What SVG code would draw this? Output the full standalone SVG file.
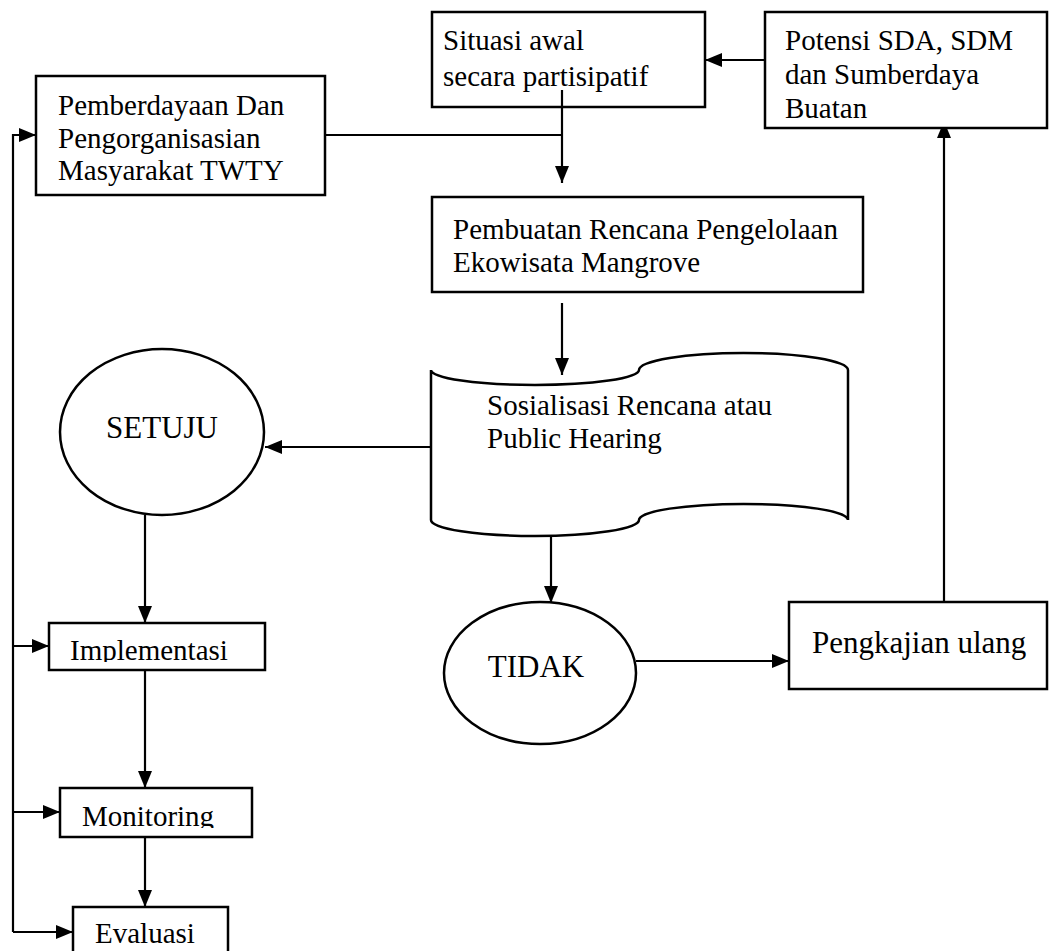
<svg xmlns="http://www.w3.org/2000/svg" width="1050" height="951" viewBox="0 0 1050 951">
<style>
.box{fill:#fff;stroke:#000;stroke-width:2.5}
.t{font-family:"Liberation Serif","Times New Roman",serif;font-size:29px;fill:#000}
.tl{font-family:"Liberation Serif","Times New Roman",serif;font-size:31px;fill:#000}
.c{fill:none;stroke:#000;stroke-width:2.2}
</style>
<defs>
<marker id="ah" viewBox="0 0 17 14" refX="17" refY="7" markerWidth="17" markerHeight="14" orient="auto" markerUnits="userSpaceOnUse">
<path d="M0,0 L17,7 L0,14 z" fill="#000"/>
</marker>
<clipPath id="clipImpl"><rect x="40" y="610" width="240" height="52"/></clipPath>
<clipPath id="clipMon"><rect x="50" y="780" width="220" height="48"/></clipPath>
</defs>
<rect width="1050" height="951" fill="#fff"/>

<g id="connectors">
<path class="c" d="M765,60 H705" marker-end="url(#ah)"/>
<path class="c" d="M325,135 H562"/>
<path class="c" d="M562,90 V183" marker-end="url(#ah)"/>
<path class="c" d="M562,303 V375" marker-end="url(#ah)"/>
<path class="c" d="M431,447 H265" marker-end="url(#ah)"/>
<path class="c" d="M551,537 V603" marker-end="url(#ah)"/>
<path class="c" d="M636,661 H789" marker-end="url(#ah)"/>
<path class="c" d="M944,602 V121" marker-end="url(#ah)"/>
<path class="c" d="M145,515 V623" marker-end="url(#ah)"/>
<path class="c" d="M145,670 V788" marker-end="url(#ah)"/>
<path class="c" d="M145,837 V907" marker-end="url(#ah)"/>
<path class="c" d="M13,932 V135 H36" marker-end="url(#ah)"/>
<path class="c" d="M13,646 H49" marker-end="url(#ah)"/>
<path class="c" d="M13,812 H60" marker-end="url(#ah)"/>
<path class="c" d="M13,932 H73" marker-end="url(#ah)"/>
</g>

<g id="situasi">
<rect class="box" x="432" y="12" width="273" height="95" style="fill:none"/>
<text class="t" x="443" y="50">Situasi awal</text>
<text class="t" x="443" y="86">secara partisipatif</text>
</g>

<g id="potensi">
<rect class="box" x="765" y="12" width="282" height="116"/>
<text class="t" x="785" y="50">Potensi SDA, SDM</text>
<text class="t" x="785" y="84">dan Sumberdaya</text>
<text class="t" x="785" y="118">Buatan</text>
</g>

<g id="pemberdayaan">
<rect class="box" x="36" y="76" width="289" height="119"/>
<text class="t" x="58" y="115">Pemberdayaan Dan</text>
<text class="t" x="58" y="148">Pengorganisasian</text>
<text class="t" x="58" y="180">Masyarakat TWTY</text>
</g>

<g id="pembuatan">
<rect class="box" x="432" y="197" width="431" height="95"/>
<text class="t" x="453" y="239">Pembuatan Rencana Pengelolaan</text>
<text class="t" x="453" y="272">Ekowisata Mangrove</text>
</g>

<g id="sosialisasi">
<path class="box" d="M431,370 A104,15 0 0 0 639,370 A104,17 0 0 1 848,370 V520 A104,16 0 0 0 639,520 A104,16 0 0 1 431,520 Z"/>
<text class="t" x="487" y="415">Sosialisasi Rencana atau</text>
<text class="t" x="487" y="448">Public Hearing</text>
</g>

<g id="setuju">
<ellipse class="box" cx="162" cy="432" rx="102" ry="83"/>
<text class="tl" x="162" y="438" text-anchor="middle">SETUJU</text>
</g>

<g id="tidak">
<ellipse class="box" cx="540" cy="673" rx="96" ry="71"/>
<text class="tl" x="536" y="677" text-anchor="middle">TIDAK</text>
</g>

<g id="pengkajian">
<rect class="box" x="789" y="602" width="258" height="87"/>
<text class="tl" x="812" y="653">Pengkajian ulang</text>
</g>

<g id="implementasi">
<rect class="box" x="49" y="623" width="216" height="47"/>
<text class="t" x="70" y="660" clip-path="url(#clipImpl)">Implementasi</text>
</g>

<g id="monitoring">
<rect class="box" x="60" y="788" width="192" height="49"/>
<text class="t" x="82" y="826" clip-path="url(#clipMon)">Monitoring</text>
</g>

<g id="evaluasi">
<rect class="box" x="73" y="907" width="155" height="60"/>
<text class="t" x="95" y="943">Evaluasi</text>
</g>
</svg>
